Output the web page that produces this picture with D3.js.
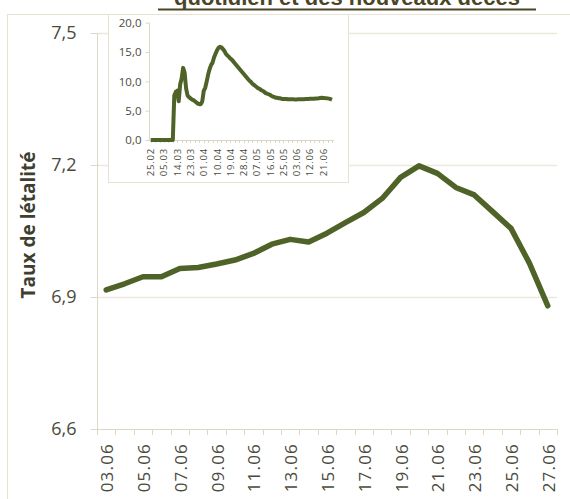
<!DOCTYPE html>
<html>

<head>
  <meta charset="UTF-8">
  <script src="https://d3js.org/d3.v7.js"></script>
  <style>
    body { margin: 0; background: #fff; }
    text { font-family: "Open Sans", sans-serif; }
  </style>
</head>

<body>
  <div id="chart"></div>

  <script>
    // data

    const dates = ["03.06", "04.06", "05.06", "06.06", "07.06", "08.06", "09.06", "10.06", "11.06",
      "12.06", "13.06", "14.06", "15.06", "16.06", "17.06", "18.06", "19.06", "20.06", "21.06",
      "22.06", "23.06", "24.06", "25.06", "26.06", "27.06"];

    const rates = [6.916, 6.930, 6.946, 6.946, 6.965, 6.967, 6.975, 6.984, 6.999, 7.020, 7.031,
      7.025, 7.045, 7.069, 7.092, 7.124, 7.172, 7.198, 7.181, 7.149, 7.132, 7.094, 7.056, 6.977, 6.880];

    const yTicks = [6.6, 6.9, 7.2, 7.5];

    // inset: daily rate since 25.02 (values up to 02.06, june reuses rates)
    const earlyRates = [0, 0, 0, 0, 0, 0, 0, 0, 0, 0, 0, 0, 0, 0, 0, 0,
      7.6, 8.2, 8.4, 6.6, 9.5, 10.5, 12.3, 11.5, 8.8, 7.6,
      7.3, 7.1, 6.9, 6.8, 6.6, 6.4, 6.2, 6.1, 6.1, 6.6,
      8.4, 8.9, 10.0, 11.2, 12.1, 12.8, 13.2, 14.1, 14.7, 15.3,
      15.7, 15.9, 15.8, 15.5, 15.2, 14.7, 14.4, 14.2, 13.9, 13.7,
      13.4, 13.1, 12.8, 12.5, 12.2, 11.9, 11.6, 11.3, 11.0, 10.7,
      10.4, 10.1, 9.9, 9.6, 9.4, 9.2, 9.0, 8.8, 8.7, 8.5,
      8.4, 8.2, 8.0, 7.9, 7.8, 7.7, 7.5, 7.4, 7.3, 7.2,
      7.2, 7.1, 7.1, 7.0, 7.0, 7.0, 7.0, 6.95, 6.95, 6.95,
      6.95, 6.93, 6.92];
    const insetRates = earlyRates.concat(rates);

    const insetLabels = ["25.02", "05.03", "14.03", "23.03", "01.04", "10.04", "19.04",
      "28.04", "07.05", "16.05", "25.05", "03.06", "12.06", "21.06"];
    const insetYTicks = [0, 5, 10, 15, 20];

    // set up

    const W = 570, H = 499;
    const lineColor = '#4f6228';
    const textColor = '#4a4a3c';
    const gridColor = '#ece8dc';
    const axisColor = '#ddd8c6';
    const comma = d => d3.format('.1f')(d).replace('.', ',');

    const svg = d3.select('#chart')
      .append('svg')
        .attr('width', W)
        .attr('height', H);

    // chart frame
    svg.append('rect')
        .attr('x', 7.5).attr('y', 14.5)
        .attr('width', 600).attr('height', 600)
        .attr('fill', '#fff')
        .attr('stroke', '#e6e2d4');

    // title (second line, cut at top like the original)
    svg.append('text')
        .attr('x', 347).attr('y', 5)
        .attr('text-anchor', 'middle')
        .style('font-family', '"Liberation Sans", Arial, sans-serif')
        .style('font-weight', 'bold')
        .style('font-size', '22px')
        .attr('fill', '#4a4526')
        .text('quotidien et des nouveaux décès');
    svg.append('line')
        .attr('x1', 158).attr('x2', 536)
        .attr('y1', 9.5).attr('y2', 9.5)
        .attr('stroke', '#4a4526')
        .attr('stroke-width', 2);

    // scales

    const x = d3.scaleBand()
        .domain(dates)
        .range([97, 557]);

    const y = d3.scaleLinear()
        .domain([6.6, 7.5])
        .range([429, 33]);

    // grid
    svg.append('g')
      .selectAll('line')
      .data(yTicks.slice(1))
      .join('line')
        .attr('x1', 97).attr('x2', 557)
        .attr('y1', d => y(d) + 0.5).attr('y2', d => y(d) + 0.5)
        .attr('stroke', gridColor)
        .attr('stroke-width', 1.5);

    // axes

    const yAxis = d3.axisLeft(y)
        .tickValues(yTicks)
        .tickFormat(comma)
        .tickSize(7)
        .tickPadding(14);

    svg.append('g')
        .attr('transform', 'translate(97.5,0)')
        .call(yAxis)
        .call(g => g.select('.domain').attr('d', `M0,${y(7.5)}V${y(6.6) + 6}`).attr('stroke', axisColor))
        .call(g => g.selectAll('.tick line').attr('stroke', axisColor))
        .call(g => g.selectAll('.tick text')
          .attr('fill', textColor)
          .style('font-size', '18px')
          .style('font-family', '"Open Sans", sans-serif'));

    // x axis: line + ticks between categories
    const xg = svg.append('g');
    xg.append('line')
        .attr('x1', 97).attr('x2', 557)
        .attr('y1', y(6.6) + 0.5).attr('y2', y(6.6) + 0.5)
        .attr('stroke', axisColor);
    xg.selectAll('.tk')
      .data(dates.concat(['end']))
      .join('line')
        .attr('class', 'tk')
        .attr('x1', (d, i) => Math.round(97 + i * x.bandwidth()) + 0.5)
        .attr('x2', (d, i) => Math.round(97 + i * x.bandwidth()) + 0.5)
        .attr('y1', y(6.6)).attr('y2', y(6.6) + 6)
        .attr('stroke', axisColor);
    xg.selectAll('.lbl')
      .data(dates.filter((d, i) => i % 2 === 0))
      .join('text')
        .attr('class', 'lbl')
        .attr('transform', d => `translate(${x(d) + x.bandwidth() / 2 + 7},443) rotate(-90)`)
        .attr('text-anchor', 'end')
        .attr('fill', textColor)
        .style('font-size', '17px')
        .style('letter-spacing', '1.2px')
        .text(d => d);

    // main line
    const line = d3.line()
        .x((d, i) => x(dates[i]) + x.bandwidth() / 2)
        .y(d => y(d));

    svg.append('path')
        .datum(rates)
        .attr('fill', 'none')
        .attr('stroke', lineColor)
        .attr('stroke-width', 5.5)
        .attr('stroke-linejoin', 'round')
        .attr('stroke-linecap', 'round')
        .attr('d', line);

    // inset

    const inset = svg.append('g');
    inset.append('rect')
        .attr('x', 108.5).attr('y', 14.5)
        .attr('width', 240).attr('height', 168)
        .attr('fill', '#fff')
        .attr('stroke', '#e6e2d4');

    const ix = d3.scaleLinear()
        .domain([0, insetRates.length - 1])
        .range([150.7, 332]);
    const iy = d3.scaleLinear()
        .domain([0, 20])
        .range([140, 22.7]);

    inset.append('g')
        .attr('transform', 'translate(149.5,0)')
        .call(d3.axisLeft(iy).tickValues(insetYTicks).tickFormat(comma).tickSize(4).tickPadding(4))
        .call(g => g.select('.domain').attr('d', `M0,${iy(20)}V${iy(0)}`).attr('stroke', axisColor))
        .call(g => g.selectAll('.tick line').attr('stroke', axisColor))
        .call(g => g.selectAll('.tick text')
          .attr('fill', textColor)
          .style('font-size', '11.5px')
          .style('font-family', '"Open Sans", sans-serif'));

    inset.append('line')
        .attr('x1', 149).attr('x2', 334)
        .attr('y1', iy(0) + 0.5).attr('y2', iy(0) + 0.5)
        .attr('stroke', axisColor);
    inset.selectAll('.itk')
      .data(d3.range(0, insetRates.length, 3))
      .join('line')
        .attr('class', 'itk')
        .attr('x1', d => Math.round(ix(d)) + 0.5).attr('x2', d => Math.round(ix(d)) + 0.5)
        .attr('y1', iy(0)).attr('y2', iy(0) + 3)
        .attr('stroke', axisColor);
    inset.selectAll('.ilbl')
      .data(insetLabels)
      .join('text')
        .attr('class', 'ilbl')
        .attr('transform', (d, i) => `translate(${ix(i * 9) + 3.5},148) rotate(-90)`)
        .attr('text-anchor', 'end')
        .attr('fill', textColor)
        .style('font-size', '9.5px')
        .style('letter-spacing', '0.8px')
        .text(d => d);

    inset.append('path')
        .datum(insetRates)
        .attr('fill', 'none')
        .attr('stroke', lineColor)
        .attr('stroke-width', 4)
        .attr('stroke-linejoin', 'round')
        .attr('d', d3.line().x((d, i) => ix(i)).y(d => iy(d)));

    // y title
    svg.append('text')
        .attr('transform', 'translate(35,225) rotate(-90)')
        .attr('text-anchor', 'middle')
        .attr('fill', '#3f3f30')
        .style('font-weight', 'bold')
        .style('font-size', '19px')
        .text('Taux de létalité');
  </script>
</body>

</html>
